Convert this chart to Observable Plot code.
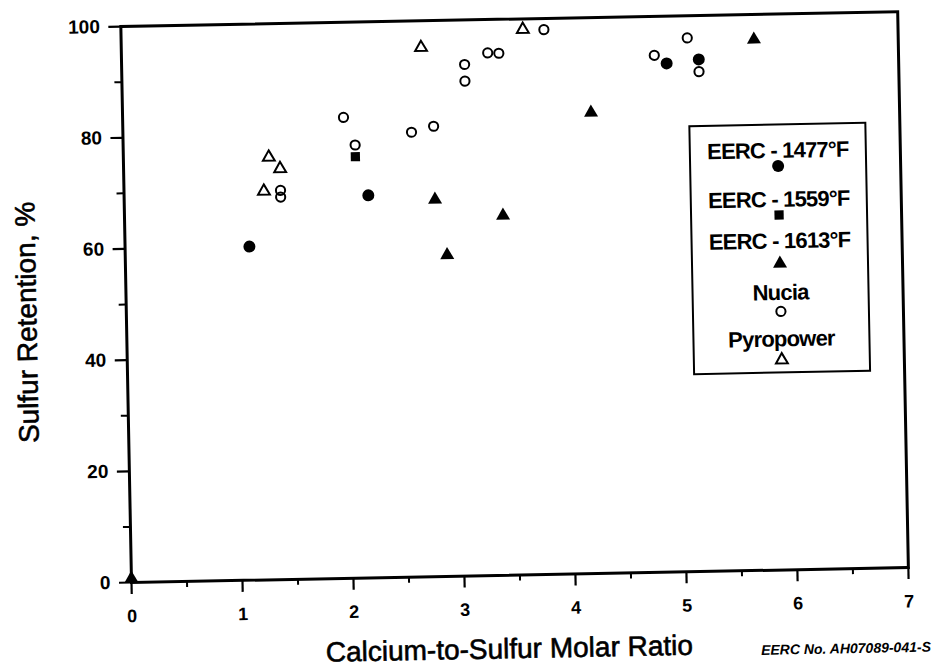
<!DOCTYPE html>
<html>
<head>
<meta charset="utf-8">
<script src="https://cdn.jsdelivr.net/npm/d3@7"></script>
<script src="https://cdn.jsdelivr.net/npm/@observablehq/plot@0.6"></script>
<style>
  html, body { margin: 0; padding: 0; background: #fff; overflow: hidden; }
  #wrap {
    position: relative; width: 934px; height: 669px;
    transform-origin: 131px 582px; transform: rotate(-1.1deg);
    font-family: "Liberation Sans", Arial, Helvetica, sans-serif;
  }
</style>
</head>
<body>
<div id="wrap"></div>
<script>
// ---- data ----
const xTicks = [0, 1, 2, 3, 4, 5, 6, 7];
const xMinorTicks = [0.5, 1.5, 2.5, 3.5, 4.5, 5.5, 6.5];
const yTicks = [0, 20, 40, 60, 80, 100];
const yMinorTicks = [10, 30, 50, 70, 90];

const seriesNames = ["EERC - 1477°F", "EERC - 1559°F", "EERC - 1613°F", "Nucia", "Pyropower"];

const eerc1477X = [1.12, 2.20, 4.91, 5.20];
const eerc1477Y = [60.0, 68.8, 91.5, 92.1];

const eerc1559X = [2.09];
const eerc1559Y = [75.8];

const eerc1613X = [0.0, 2.80, 2.90, 3.41, 4.22, 5.70];
const eerc1613Y = [0.7, 67.8, 57.8, 64.7, 82.9, 95.5];

const nuciaX = [1.41, 1.41, 1.99, 2.09, 2.60, 2.80, 3.09, 3.09, 3.30, 3.40, 3.81, 4.80, 5.10, 5.20];
const nuciaY = [70.0, 68.8, 82.9, 77.9, 80.0, 81.0, 92.0, 89.0, 94.0, 93.9, 98.0, 93.0, 96.0, 89.9];

const pyroX = [1.26, 1.31, 1.41, 2.70, 3.62];
const pyroY = [69.9, 76.0, 73.9, 95.2, 98.1];

const xTitle = "Calcium-to-Sulfur Molar Ratio";
const yTitle = "Sulfur Retention, %";
const caption = "EERC No. AH07089-041-S";

// ---- build rows ----
const rows = (xs, ys) => xs.map((x, i) => ({x, y: ys[i]}));
const FONT = '"Liberation Sans", Arial, Helvetica, sans-serif';

const chart = Plot.plot({
  width: 934,
  height: 669,
  marginLeft: 131,
  marginRight: 26,
  marginTop: 26,
  marginBottom: 87,
  x: {domain: [0, 7]},
  y: {domain: [0, 100]},
  style: {fontFamily: FONT, background: "transparent", color: "#000", overflow: "visible"},
  marks: [
    Plot.frame({stroke: "#000", strokeWidth: 3}),
    Plot.axisX({ticks: xTicks, tickSize: 12, tickPadding: 15, strokeWidth: 2.2, fontSize: 18, fontWeight: "bold", tickFormat: d => String(d), label: null}),
    Plot.axisX({ticks: xMinorTicks, tickSize: 6, strokeWidth: 2, tickFormat: () => "", label: null}),
    Plot.axisY({ticks: yTicks, tickSize: 12, tickPadding: 9, strokeWidth: 2.2, fontSize: 19, fontWeight: "bold", tickFormat: d => String(d), label: null}),
    Plot.axisY({ticks: yMinorTicks, tickSize: 7, strokeWidth: 2, tickFormat: () => "", label: null}),
    Plot.text([xTitle], {frameAnchor: "bottom", textAnchor: "middle", lineAnchor: "middle", dy: 74, dx: -12, fontSize: 28, fill: "#000", stroke: "#000", strokeWidth: 0.6}),
    Plot.text([yTitle], {frameAnchor: "left", textAnchor: "middle", lineAnchor: "middle", rotate: -90, dx: -99, dy: 16, fontSize: 28, fill: "#000", stroke: "#000", strokeWidth: 0.6}),
    Plot.text([caption], {frameAnchor: "bottom-right", textAnchor: "end", lineAnchor: "middle", dx: 21, dy: 80, fontSize: 14, fontWeight: "bold", fontStyle: "italic", fill: "#000", letterSpacing: "-0.3px"}),
    Plot.dot(rows(nuciaX, nuciaY), {x: "x", y: "y", symbol: "circle", r: 4.6, fill: "none", stroke: "#000", strokeWidth: 2}),
    Plot.dot(rows(pyroX, pyroY), {x: "x", y: "y", symbol: "triangle", r: 4.4, fill: "none", stroke: "#000", strokeWidth: 2}),
    Plot.dot(rows(eerc1477X, eerc1477Y), {x: "x", y: "y", symbol: "circle", r: 6, fill: "#000", stroke: "none"}),
    Plot.dot(rows(eerc1559X, eerc1559Y), {x: "x", y: "y", symbol: "square", r: 5.2, fill: "#000", stroke: "none"}),
    Plot.dot(rows(eerc1613X, eerc1613Y), {x: "x", y: "y", symbol: "triangle", r: 5.2, fill: "#000", stroke: "none"})
  ]
});
chart.style.position = "absolute";
chart.style.left = "0px";
chart.style.top = "0px";

const wrap = document.getElementById("wrap");
wrap.appendChild(chart);

// ---- legend (SVG overlay) ----
const LW = 178, LH = 250;
const labelY = [26.5, 75.5, 117, 168.5, 215];
const symbolY = [42.5, 91.5, 140, 188, 236.5];
const legendSymbols = [
  {type: d3.symbolCircle, r: 6, fill: "#000", stroke: "none"},
  {type: d3.symbolSquare, r: 5.2, fill: "#000", stroke: "none"},
  {type: d3.symbolTriangle, r: 5.2, fill: "#000", stroke: "none"},
  {type: d3.symbolCircle, r: 4.6, fill: "none", stroke: "#000"},
  {type: d3.symbolTriangle, r: 4.4, fill: "none", stroke: "#000"}
];
const lg = d3.create("svg")
  .attr("width", LW).attr("height", LH)
  .style("position", "absolute").style("left", "697px").style("top", "136px")
  .style("overflow", "visible");
lg.append("rect")
  .attr("x", 1).attr("y", 1).attr("width", LW - 2).attr("height", LH - 2)
  .attr("fill", "#fff").attr("stroke", "#000").attr("stroke-width", 2);
seriesNames.forEach((name, i) => {
  lg.append("text")
    .attr("x", LW / 2).attr("y", labelY[i]).attr("dy", "0.36em")
    .attr("text-anchor", "middle")
    .attr("font-family", FONT).attr("font-weight", "bold").attr("font-size", 22)
    .attr("letter-spacing", "-0.8px")
    .text(name);
  const s = legendSymbols[i];
  lg.append("path")
    .attr("transform", `translate(${LW / 2},${symbolY[i]})`)
    .attr("d", d3.symbol(s.type, Math.PI * s.r * s.r)())
    .attr("fill", s.fill).attr("stroke", s.stroke).attr("stroke-width", 2);
});
wrap.appendChild(lg.node());
</script>
</body>
</html>
